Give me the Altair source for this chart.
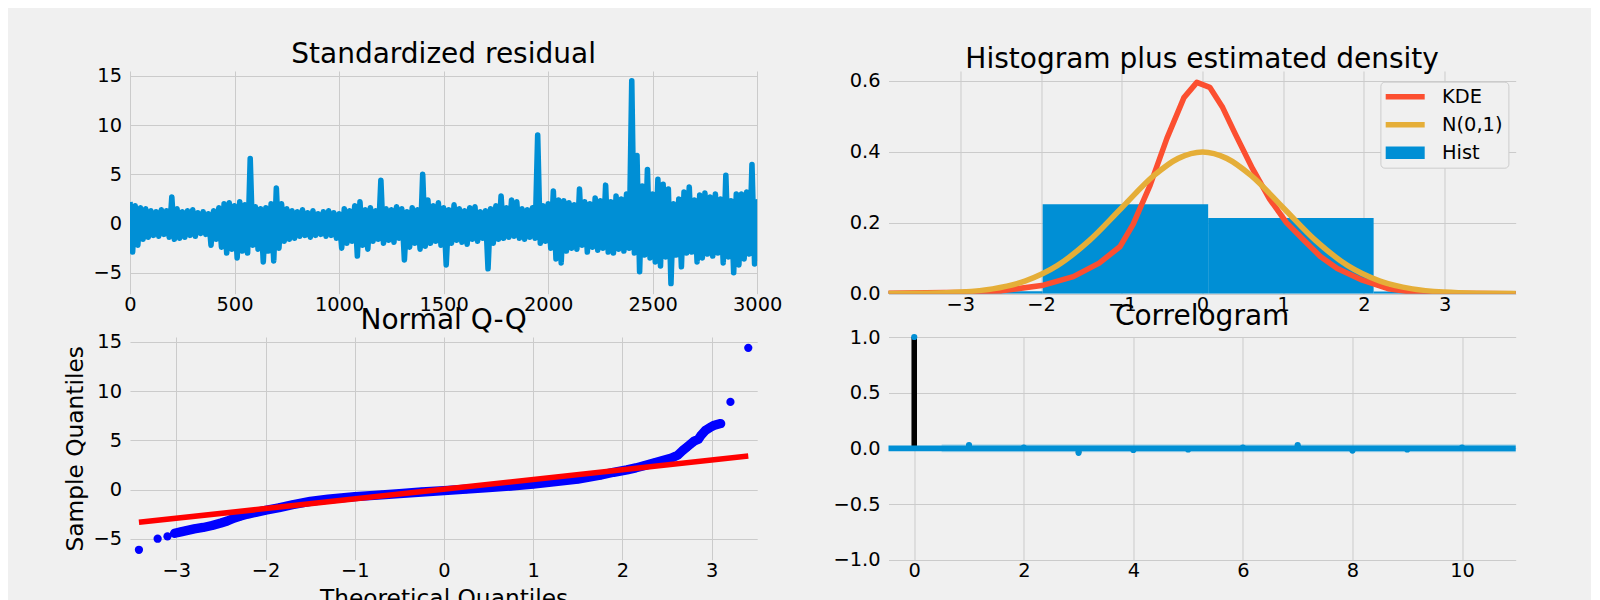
import altair as alt
import pandas as pd

FONT = "DejaVu Sans"
BLUE = "#008fd5"
RED538 = "#fc4f30"
GOLD = "#e5ae38"
TXT = "#000000"

# ---------------- Standardized residual (upper / lower envelope, every 25 obs)
resid_idx = list(range(0, 3001, 25))
resid_hi = [2.2, 1.8, 1.6, 1.5, 1.3, 1.2, 1.4, 1.3, 2.7, 1.5, 1.2, 1.3, 1.4, 1.1, 1.2, 1.0,
            1.3, 1.6, 2.0, 2.1, 1.8, 2.2, 1.9, 6.6, 1.7, 1.5, 1.6, 2.0,
            3.6, 2.0, 1.5, 1.3, 1.2, 1.4, 1.1, 1.3, 1.0, 1.2, 1.3, 1.1,
            1.0, 1.5, 1.3, 1.8, 2.2, 1.4, 1.6, 1.3, 4.4, 1.5, 1.4, 1.7,
            1.5, 1.2, 1.6, 1.4, 5.0, 2.4, 1.8, 2.1, 1.6, 1.4, 1.9, 1.5,
            1.3, 1.6, 1.7, 1.2, 1.3, 1.5, 1.8, 2.8, 1.6, 2.4, 2.2, 1.5,
            1.4, 1.6, 9.0, 1.8, 2.0, 3.3, 2.4, 2.3, 2.1, 1.9, 3.5, 2.2,
            2.0, 2.6, 2.3, 3.9, 2.2, 2.8, 2.5, 3.0, 14.5, 6.9, 3.8, 5.5,
            3.0, 4.5, 4.0, 3.5, 2.0, 2.5, 3.2, 3.7, 2.4, 2.9, 3.1, 2.7,
            3.0, 2.5, 4.9, 2.3, 3.0, 3.0, 3.2, 6.0, 2.2]
resid_lo = [-2.9, -2.2, -1.6, -1.4, -1.2, -1.3, -1.1, -1.4, -1.6, -1.5, -1.4, -1.2, -1.3, -1.0, -1.1, -2.2,
            -1.6, -2.4, -3.0, -2.6, -3.5, -2.8, -3.0, -2.2, -2.6, -3.9, -2.8, -3.8,
            -2.5, -1.8, -1.6, -1.5, -1.3, -1.2, -1.4, -1.2, -1.1, -1.3, -1.2, -1.5,
            -2.5, -2.0, -1.8, -3.3, -2.2, -2.6, -1.8, -1.6, -2.0, -1.7, -1.9, -1.5,
            -3.7, -2.4, -2.0, -2.6, -2.3, -2.0, -1.8, -2.2, -4.2, -2.0, -1.7, -1.9,
            -2.1, -1.6, -1.8, -1.5, -4.6, -2.0, -1.6, -1.5, -1.4, -1.3, -1.5, -1.6,
            -1.4, -1.5, -2.0, -1.8, -2.5, -3.6, -4.0, -2.8, -2.5, -2.6, -2.2, -2.9,
            -2.4, -2.7, -2.5, -2.9, -3.0, -2.6, -2.8, -2.5, -3.0, -4.9, -3.2, -3.5,
            -3.9, -4.3, -3.4, -6.1, -3.2, -4.4, -3.0, -2.9, -3.9, -3.5, -3.1, -3.3,
            -3.0, -4.0, -3.4, -5.0, -4.2, -3.6, -3.1, -4.1, -3.8]

# ---------------- Histogram plus estimated density
hist_left = [-4.03, -1.98, 0.07, 2.12]
hist_right = [-1.98, 0.07, 2.12, 4.17]
hist_density = [0.007, 0.252, 0.213, 0.006]

kde_x = [-3.9, -2.96, -2.49, -1.97, -1.6, -1.28, -1.02, -0.86, -0.65, -0.44, -0.23, -0.07,
         0.09, 0.25, 0.41, 0.62, 0.83, 1.04, 1.25, 1.46, 1.67, 1.98, 2.3, 2.62, 3.14, 3.9]
kde_y = [0.001, 0.004, 0.008, 0.024, 0.048, 0.086, 0.133, 0.195, 0.305, 0.438, 0.552, 0.595,
         0.581, 0.524, 0.448, 0.352, 0.267, 0.200, 0.152, 0.105, 0.071, 0.038, 0.014, 0.004, 0.001, 0.0]

norm_x = [-3.9, -3.4, -3.0, -2.6, -2.2, -1.8, -1.4, -1.0, -0.6, -0.3, 0.0,
          0.3, 0.6, 1.0, 1.4, 1.8, 2.2, 2.6, 3.0, 3.4, 3.9]
norm_y = [0.0002, 0.0012, 0.0044, 0.0136, 0.0355, 0.079, 0.150, 0.242, 0.333, 0.381, 0.399,
          0.381, 0.333, 0.242, 0.150, 0.079, 0.0355, 0.0136, 0.0044, 0.0012, 0.0002]

legend_names = ["KDE", "N(0,1)", "Hist"]
legend_colors = [RED538, GOLD, BLUE]
LINE_SYM = "M-1.95,-0.28H1.95V0.28H-1.95Z"
BOX_SYM = "M-1.95,-0.63H1.95V0.63H-1.95Z"
legend_shapes = [LINE_SYM, LINE_SYM, BOX_SYM]

# ---------------- Normal Q-Q
qq_x = [-3.42, -3.21, -3.1, -3.02, -2.95, -2.9, -2.8, -2.7, -2.6, -2.5, -2.43, -2.35, -2.28, -2.2,
        -2.1, -2.0, -1.85, -1.7, -1.5, -1.3, -1.0, -0.7, -0.5, -0.25, 0.0, 0.25, 0.5, 0.75, 1.0,
        1.25, 1.5, 1.75, 1.9, 2.05, 2.15, 2.25, 2.35, 2.45, 2.55, 2.62, 2.68, 2.72, 2.76, 2.8,
        2.85, 2.88, 2.93, 2.98, 3.02, 3.1, 3.21, 3.41]
qq_y = [-6.12, -5.0, -4.76, -4.45, -4.3, -4.2, -4.0, -3.85, -3.65, -3.4, -3.2, -2.9, -2.7, -2.5,
        -2.3, -2.1, -1.85, -1.55, -1.2, -0.98, -0.72, -0.55, -0.42, -0.25, -0.1, 0.05, 0.2, 0.35, 0.55,
        0.8, 1.05, 1.45, 1.75, 2.0, 2.2, 2.45, 2.7, 2.95, 3.2, 3.5, 4.0, 4.3, 4.6, 4.9,
        5.1, 5.5, 6.0, 6.3, 6.5, 6.7, 8.9, 14.4]
qq_dense = [False, False, False] + [True] * 47 + [False, False]
qqline_x = [-3.42, 3.41]
qqline_y = [-3.33, 3.40]

# ---------------- Correlogram
lags = [0, 1, 2, 3, 4, 5, 6, 7, 8, 9, 10]
acf = [1.0, 0.03, 0.006, -0.04, -0.015, -0.01, 0.006, 0.03, -0.02, -0.01, 0.006]
conf_x = [0.5]
conf_x2 = [11.0]
conf_lo = [-0.036]
conf_hi = [0.036]

# =====================================================================
W, H = 627.2, 222.7
LW = 5.56


def ttl(text):
    return alt.TitleParams(text=text, fontSize=28, font=FONT, fontWeight="normal", color=TXT,
                           anchor="middle", frame="group", baseline="alphabetic", offset=-25.5)


def ax(values, fmt, title=None):
    if title is None:
        return alt.Axis(values=values, format=fmt, title=None)
    return alt.Axis(values=values, format=fmt, title=title)


# residual panel
rrows = []
for t, h, l in zip(resid_idx, resid_hi, resid_lo):
    rrows.append({"t": t, "v": h})
    rrows.append({"t": t + 12.5, "v": l})
resid_df = pd.DataFrame(rrows)
rx = alt.Scale(domain=[0, 3000], nice=False, zero=False)
ry = alt.Scale(domain=[-7.13, 15.5], nice=False, zero=False)
resid_chart = alt.Chart(resid_df).mark_line(
    color=BLUE, strokeWidth=LW, strokeJoin="round", clip=True
).encode(
    x=alt.X("t:Q", scale=rx, axis=ax([0, 500, 1000, 1500, 2000, 2500, 3000], "d")),
    y=alt.Y("v:Q", scale=ry, axis=ax([-5, 0, 5, 10, 15], "d")),
).properties(width=W, height=H, title=ttl("Standardized residual"))

# histogram panel
hx = alt.Scale(domain=[-3.89, 3.88], nice=False, zero=False)
hy = alt.Scale(domain=[0, 0.627], nice=False, zero=False)
hxa = ax([-3, -2, -1, 0, 1, 2, 3], "d")
hya = ax([0, 0.2, 0.4, 0.6], ".1f")
hist_df = pd.DataFrame({"left": hist_left, "right": hist_right, "density": hist_density})
kde_df = pd.DataFrame({"x": kde_x, "y": kde_y})
norm_df = pd.DataFrame({"x": norm_x, "y": norm_y})
leg_df = pd.DataFrame({"series": legend_names, "x": [None] * 3, "y": [None] * 3})

bars = alt.Chart(hist_df).mark_rect(color=BLUE, clip=True).encode(
    x=alt.X("left:Q", scale=hx, axis=hxa), x2="right:Q",
    y=alt.Y("density:Q", scale=hy, axis=hya), y2=alt.datum(0))
kde_line = alt.Chart(kde_df).mark_line(color=RED538, strokeWidth=LW, strokeJoin="round", clip=True).encode(
    x=alt.X("x:Q", scale=hx, axis=hxa), y=alt.Y("y:Q", scale=hy, axis=hya))
norm_line = alt.Chart(norm_df).mark_line(color=GOLD, strokeWidth=LW, strokeJoin="round",
                                         interpolate="monotone", clip=True).encode(
    x=alt.X("x:Q", scale=hx, axis=hxa), y=alt.Y("y:Q", scale=hy, axis=hya))
leg = alt.Legend(title=None, orient="none", legendX=491.9, legendY=10.7, direction="vertical",
                 labelFont=FONT, labelFontSize=19.4, labelColor=TXT, symbolSize=400,
                 symbolStrokeWidth=0, padding=5, fillColor="#f0f0f0", strokeColor="#cccccc",
                 cornerRadius=4, rowPadding=8, symbolOffset=9.8, labelOffset=26.8, labelLimit=300)
legend_layer = alt.Chart(leg_df).mark_point(filled=True, size=400, strokeWidth=0, opacity=1).encode(
    x=alt.X("x:Q", scale=hx, axis=hxa), y=alt.Y("y:Q", scale=hy, axis=hya),
    color=alt.Color("series:N", scale=alt.Scale(domain=legend_names, range=legend_colors), legend=leg),
    shape=alt.Shape("series:N", scale=alt.Scale(domain=legend_names, range=legend_shapes), legend=leg),
)
hist_chart = alt.layer(bars, kde_line, norm_line, legend_layer).properties(
    width=W, height=H, title=ttl("Histogram plus estimated density"))

# QQ panel
qx = alt.Scale(domain=[-3.52, 3.51], nice=False, zero=False)
qy = alt.Scale(domain=[-7.13, 15.5], nice=False, zero=False)
qxa = alt.Axis(values=[-3, -2, -1, 0, 1, 2, 3], format="d", title="Theoretical Quantiles")
qya = alt.Axis(values=[-5, 0, 5, 10, 15], format="d", title="Sample Quantiles")
qq_df = pd.DataFrame({"tq": qq_x, "sq": qq_y, "dense": qq_dense})
qql_df = pd.DataFrame({"tq": qqline_x, "sq": qqline_y})
qq_band = alt.Chart(qq_df).transform_filter("datum.dense").mark_line(
    color="#0000ff", strokeWidth=9.3, strokeJoin="round", strokeCap="round").encode(
    x=alt.X("tq:Q", scale=qx, axis=qxa), y=alt.Y("sq:Q", scale=qy, axis=qya))
qq_pts = alt.Chart(qq_df).mark_point(filled=True, size=68, color="#0000ff", opacity=1, strokeWidth=0).encode(
    x=alt.X("tq:Q", scale=qx, axis=qxa), y=alt.Y("sq:Q", scale=qy, axis=qya))
qq_line = alt.Chart(qql_df).mark_line(color="#ff0000", strokeWidth=LW).encode(
    x=alt.X("tq:Q", scale=qx, axis=qxa), y=alt.Y("sq:Q", scale=qy, axis=qya))
qq_chart = alt.layer(qq_band, qq_pts, qq_line).properties(width=W, height=H, title=ttl("Normal Q-Q"))

# Correlogram panel
cx = alt.Scale(domain=[-0.47, 10.98], nice=False, zero=False)
cy = alt.Scale(domain=[-1, 1], nice=False, zero=False)
cxa = ax([0, 2, 4, 6, 8, 10], "d")
cya = ax([-1, -0.5, 0, 0.5, 1], ".1f")
acf_df = pd.DataFrame({"lag": lags, "acf": acf})
conf_df = pd.DataFrame({"x": conf_x, "x2": conf_x2, "lo": conf_lo, "hi": conf_hi})
zero_df = pd.DataFrame({"zero": [0.0]})
vlines = alt.Chart(acf_df).mark_rule(color="black", strokeWidth=LW).encode(
    x=alt.X("lag:Q", scale=cx, axis=cxa), y=alt.Y("acf:Q", scale=cy, axis=cya), y2=alt.datum(0))
hline = alt.Chart(zero_df).mark_rule(color=BLUE, strokeWidth=LW).encode(
    y=alt.Y("zero:Q", scale=cy, axis=cya))
markers = alt.Chart(acf_df).mark_point(filled=True, size=38, color=BLUE, opacity=1, strokeWidth=0).encode(
    x=alt.X("lag:Q", scale=cx, axis=cxa), y=alt.Y("acf:Q", scale=cy, axis=cya))
band = alt.Chart(conf_df).mark_rect(color=BLUE, opacity=0.25, clip=True).encode(
    x=alt.X("x:Q", scale=cx, axis=cxa), x2="x2:Q", y=alt.Y("lo:Q", scale=cy, axis=cya), y2="hi:Q")
acf_chart = alt.layer(vlines, hline, markers, band).properties(width=W, height=H, title=ttl("Correlogram"))

chart = alt.concat(
    resid_chart, hist_chart, qq_chart, acf_chart,
    columns=2, spacing={"row": 43, "column": 130.5}, bounds="flush",
).resolve_legend(
    color="independent", shape="independent",
).properties(
    padding={"left": 55, "top": 32, "right": 72, "bottom": 5},
).configure(
    background="#f0f0f0",
).configure_view(
    stroke="transparent", fill="#f0f0f0",
).configure_axis(
    domain=False, ticks=False, grid=True, gridColor="#cbcbcb", gridWidth=1, gridOpacity=1,
    labelFont=FONT, labelFontSize=19.4, labelColor=TXT, labelFlush=False, labelOverlap=False,
    titleFont=FONT, titleFontSize=23.3, titleFontWeight="normal", titleColor=TXT,
).configure_axisX(
    labelPadding=2, titlePadding=7,
).configure_axisY(
    labelPadding=8.5, titlePadding=5,
)

chart.save("out.html", embed_options={"renderer": "svg", "actions": False})
